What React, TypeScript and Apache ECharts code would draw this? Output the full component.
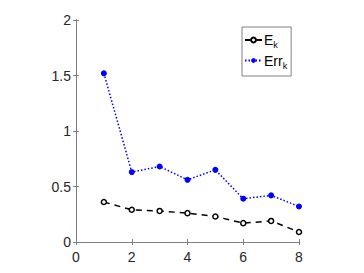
import React, { useEffect, useRef } from "react";
import * as echarts from "echarts";

const xValues = [1, 2, 3, 4, 5, 6, 7, 8];
const eValues = [0.36, 0.29, 0.28, 0.26, 0.23, 0.17, 0.19, 0.09];
const errValues = [1.52, 0.63, 0.68, 0.56, 0.65, 0.39, 0.42, 0.32];

export default function App() {
  const ref = useRef<HTMLDivElement>(null);
  useEffect(() => {
    if (!ref.current) return;
    const chart = echarts.init(ref.current, null, { renderer: "svg" });
    const axisColor = "#808080";
    const textColor = "#262626";
    const font = "Liberation Sans, Arial, sans-serif";
    const common = {
      axisLine: { show: true, lineStyle: { color: axisColor, width: 1 } },
      axisTick: { show: true, inside: true, length: 3, lineStyle: { color: axisColor, width: 1 } },
      splitLine: { show: false },
    };
    chart.setOption({
      animation: false,
      backgroundColor: "#ffffff",
      grid: { left: 76, right: 65, top: 20, bottom: 31 },
      xAxis: [
        {
          type: "value", min: 0, max: 8, interval: 2, position: "bottom",
          ...common,
          axisLabel: { color: textColor, fontSize: 14, fontFamily: font, margin: 8 },
        },
        {
          type: "value", min: 0, max: 8, interval: 2, position: "top",
          ...common, axisLabel: { show: false },
        },
      ],
      yAxis: [
        {
          type: "value", min: 0, max: 2, interval: 0.5, position: "left",
          ...common,
          axisLabel: { color: textColor, fontSize: 14, fontFamily: font, margin: 5 },
        },
        {
          type: "value", min: 0, max: 2, interval: 0.5, position: "right",
          ...common, axisLabel: { show: false },
        },
      ],
      legend: {
        orient: "vertical",
        left: 242,
        top: 27,
        itemWidth: 17,
        itemHeight: 6,
        itemGap: 4,
        padding: [6, 4, 6, 2],
        borderColor: axisColor,
        borderWidth: 1,
        backgroundColor: "#ffffff",
        textStyle: {
          color: "#000000", fontFamily: font, fontSize: 14,
          padding: [0, 0, 0, -3],
          rich: {
            m: { fontSize: 14, fontFamily: font, color: "#000000" },
            s: { fontSize: 9, fontFamily: font, color: "#000000", padding: [10, 0, 0, 0] },
          },
        },
        formatter: (name: string) => (name === "E" ? "{m|E}{s|k}" : "{m|Err}{s|k}"),
        data: ["E", "Err"],
      },
      series: [
        {
          name: "E",
          type: "line",
          data: xValues.map((x, i) => [x, eValues[i]]),
          lineStyle: { color: "#000000", width: 1.5, type: [6, 5] },
          itemStyle: { color: "#ffffff", borderColor: "#000000", borderWidth: 1.5 },
          symbol: "circle",
          symbolSize: 5,
        },
        {
          name: "Err",
          type: "line",
          data: xValues.map((x, i) => [x, errValues[i]]),
          lineStyle: { color: "#0000ff", width: 1.5, type: [1.5, 2] },
          itemStyle: { color: "#0000ff" },
          symbol: "circle",
          symbolSize: 6,
        },
      ],
    });
    return () => chart.dispose();
  }, []);
  return (
    <div
      ref={ref}
      style={{ position: "absolute", left: 0, top: 0, width: 364, height: 273 }}
    />
  );
}
